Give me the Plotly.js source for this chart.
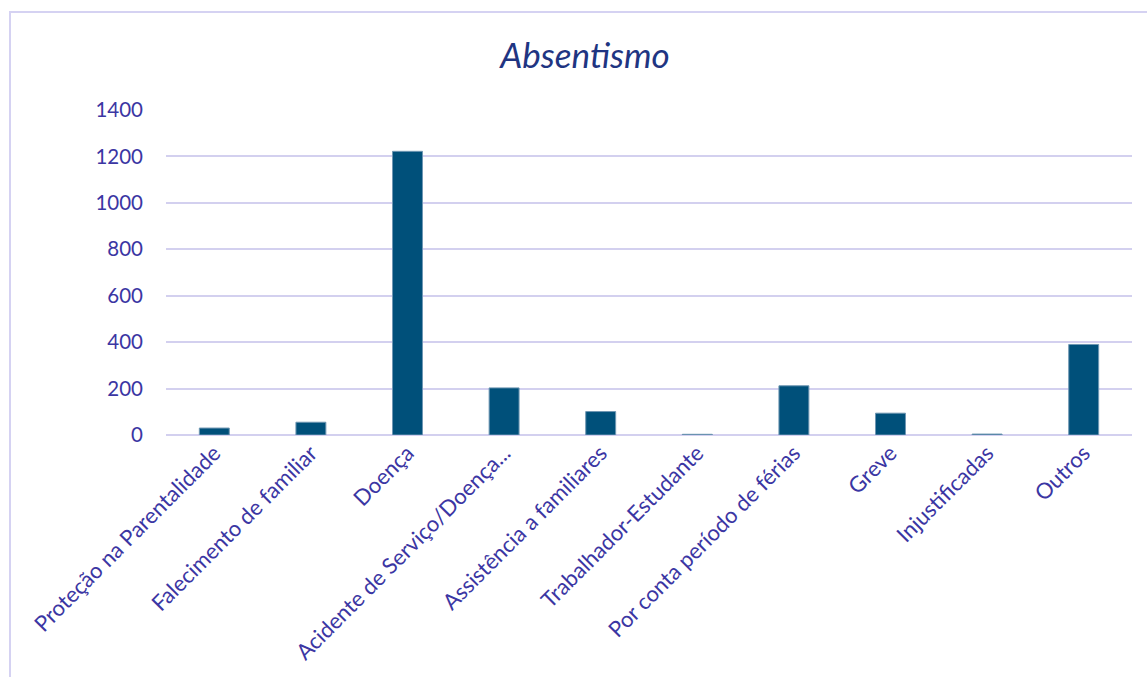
<!DOCTYPE html>
<html>
<head>
<meta charset="utf-8">
<script src="https://cdn.plot.ly/plotly-3.0.1.min.js"></script>
<style>
  html, body { margin: 0; padding: 0; background: #ffffff; }
  #wrap { position: relative; width: 1147px; height: 677px; overflow: hidden; }
  #frame { position: absolute; left: 9px; top: 11px; width: 1160px; height: 700px; border: 2px solid #d5d2f2; box-sizing: border-box; pointer-events: none; }
  #chart { position: absolute; left: 0; top: 0; width: 1147px; height: 677px; }
</style>
</head>
<body>
<div id="wrap">
  <div id="chart"></div>
  <div id="frame"></div>
</div>
<script>
const categories = [
  "Proteção na Parentalidade",
  "Falecimento de familiar",
  "Doença",
  "Acidente de Serviço/Doença...",
  "Assistência a familiares",
  "Trabalhador-Estudante",
  "Por conta período de férias",
  "Greve",
  "Injustificadas",
  "Outros"
];
const values = [30, 55, 1222, 203, 101, 3, 212, 94, 4, 390];
const yTicks = [0, 200, 400, 600, 800, 1000, 1200, 1400];

const fontFamily = "Lato, 'Open Sans', sans-serif";

Plotly.newPlot("chart", [{
  type: "bar",
  x: categories,
  y: values,
  marker: { color: "#00507a", line: { color: "#6f97b3", width: 1 } },
  hoverinfo: "x+y"
}], {
  width: 1147,
  height: 677,
  paper_bgcolor: "rgba(0,0,0,0)",
  plot_bgcolor: "#ffffff",
  margin: { l: 166, r: 15, t: 110, b: 242 },
  bargap: 0.69,
  title: {
    text: "<i>Absentismo</i>",
    x: 0.51, xanchor: "center",
    y: 0.917, yanchor: "middle",
    font: { family: fontFamily, size: 35, color: "#1f3582" }
  },
  xaxis: {
    type: "category",
    tickangle: -45,
    tickfont: { family: fontFamily, size: 22, color: "#3b36a3" },
    showgrid: false,
    showline: false,
    zeroline: false,
    ticks: ""
  },
  yaxis: {
    range: [0, 1400],
    tickvals: yTicks,
    ticktext: yTicks.map(String),
    tickfont: { family: fontFamily, size: 20.5, color: "#3b36a3" },
    showgrid: true,
    gridcolor: "#d3d0ef",
    gridwidth: 2,
    zeroline: true,
    zerolinecolor: "#d3d0ef",
    zerolinewidth: 2,
    showline: false,
    ticks: "",
    ticklabelstandoff: 22
  },
  showlegend: false
}, { displayModeBar: false, staticPlot: false });
</script>
</body>
</html>
